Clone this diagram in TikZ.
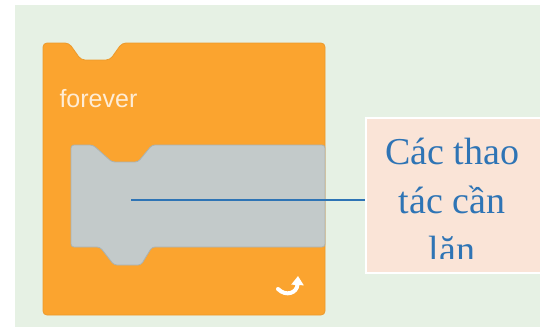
\documentclass[tikz,border=0pt]{standalone}
\usepackage{fontspec}
\setmainfont{Liberation Serif}
\newfontfamily\blockfont{Liberation Sans}
\usetikzlibrary{arrows.meta}
\definecolor{bggreen}{HTML}{E6F1E4}
\definecolor{ctrlorange}{HTML}{FBA42F}
\definecolor{ctrledge}{HTML}{EC9A2C}
\definecolor{slotgray}{HTML}{C3CACA}
\definecolor{slotedge}{HTML}{AAB2B2}
\definecolor{notefill}{HTML}{FAE4D7}
\definecolor{noteblue}{HTML}{2E74B5}

\begin{document}
\begin{tikzpicture}[
  x=1pt,y=-1pt,
  >={Triangle[length=9pt,width=12pt]},
  cblock/.style={fill=ctrlorange,draw=ctrledge,line width=0.8pt,rounded corners=4pt},
  slot/.style={fill=slotgray,draw=slotedge,line width=0.8pt,rounded corners=3pt},
  notebox/.style={fill=notefill,draw=white,line width=2pt,anchor=north west,
    minimum width=177pt,minimum height=155pt,inner sep=0pt},
  notetext/.style={text=noteblue,align=center,font=\fontsize{38}{49}\selectfont},
  lien/.style={noteblue,line width=1.3pt},
]
  % Fond
  \useasboundingbox (0,0) rectangle (540,327);
  \fill[white] (0,0) rectangle (540,327);
  \fill[bggreen] (15,5) rectangle (540,327);

  % Bloc forever (forme en C)
  \draw[cblock] (43,43) -- (69,43) -- (81,60) -- (110,60) -- (122,43)
    -- (325,43) -- (325,315) -- (43,315) -- cycle;
  \node[anchor=base west,text=white,opacity=0.8,
    font=\blockfont\fontsize{25}{30}\selectfont] (titre) at (56,107) {forever};

  % Emplacement des blocs
  \draw[slot] (71,145) -- (93,145) -- (112,162) -- (138,162) -- (152,145)
    -- (325,145) -- (325,247) -- (152,247) -- (141,265) -- (114,265)
    -- (100,247) -- (71,247) -- cycle;

  % Fleche de boucle
  \draw[white,line width=4pt,->,line cap=round] (278,289) .. controls (286,297) and (297,293) .. (298,276);

  % Note
  \node[notebox] (note) at (365,117) {};
  \begin{scope}
    \clip (365,117) rectangle (540,258);
    \node[notetext,anchor=base] (noteTxt) at (452,262) {Các thao\\tác cần\\lăn};
  \end{scope}

  % Trait de rappel
  \coordinate (pied) at (131,200);
  \draw[lien] (pied) -- (pied -| note.west);
\end{tikzpicture}
\end{document}
